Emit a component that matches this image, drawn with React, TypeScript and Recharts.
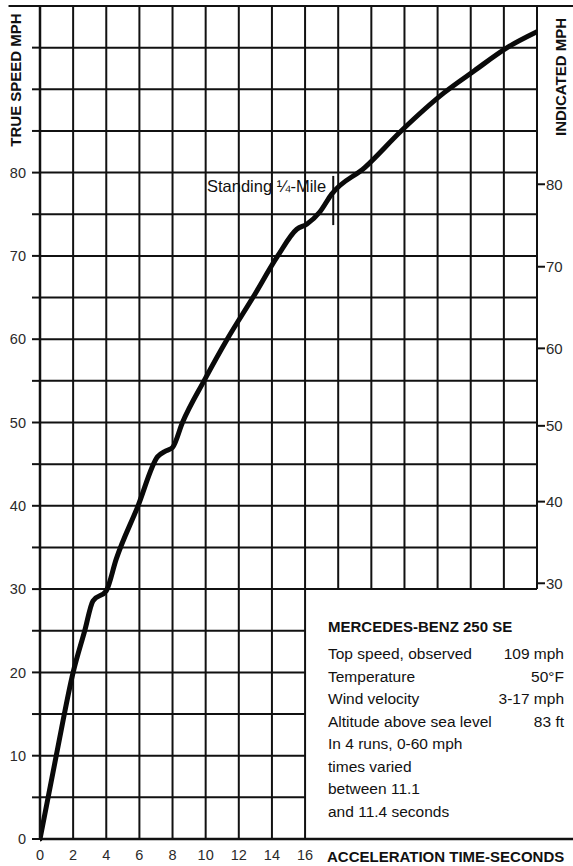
import { LineChart, Line, XAxis, YAxis, ReferenceLine } from 'recharts';

// acceleration curve
const times = [0, 1, 2, 2.7, 3.2, 4.0, 4.6, 5.9, 7.1, 7.6, 8.0, 8.6, 9.9, 11.3, 12.85, 14.35, 15.5, 16.1, 16.9, 17.6, 19.6, 21.8, 24.4, 26.2, 28.2, 30.0];
const trueSpeed = [0, 10.2, 20, 25, 28.6, 29.8, 33.6, 39.9, 45.9, 46.6, 47.0, 50.0, 55.0, 60.0, 65.0, 70.0, 73.2, 73.8, 75.3, 77.4, 80.6, 85.0, 89.6, 92.2, 95.0, 96.9];

const timeTicks = [0, 2, 4, 6, 8, 10, 12, 14, 16];
const gridX = [0, 2, 4, 6, 8, 10, 12, 14, 16, 18, 20, 22, 24, 26, 28, 30];
const gridY = [0, 5, 10, 15, 20, 25, 30, 35, 40, 45, 50, 55, 60, 65, 70, 75, 80, 85, 90, 95, 100];

// speedometer calibration: indicated reading vs true speed
const indicatedLabels = [30, 40, 50, 60, 70, 80];
const indicatedAtTrue = [30.7, 40.5, 49.6, 58.9, 68.7, 78.6];

const quarterMileTime = 17.7;
const quarterMileSpan = [73.7, 79.6];

// info box corner (lower right of grid is left blank)
const boxTime = 16;
const boxSpeed = 30;

const infoRows = [
    ['Top speed, observed', '109 mph'],
    ['Temperature', '50°F'],
    ['Wind velocity', '3-17 mph'],
    ['Altitude above sea level', '83 ft'],
];
const infoNotes = ['In 4 runs, 0-60 mph', 'times varied', 'between 11.1', 'and 11.4 seconds'];

const data = times.map((t, i) => ({ t, v: trueSpeed[i] }));

const INK = '#111';
const FONT = '"Liberation Sans", Arial, sans-serif';

const QuarterLabel = (props: any) => {
    const vb = props.viewBox || {};
    return (
        <text x={vb.x - 7} y={vb.y + 16} textAnchor="end" fontSize={16.5} fill={INK} fontFamily={FONT}>
            Standing ¼-Mile
        </text>
    );
};

const titleStyle: React.CSSProperties = {
    position: 'absolute',
    whiteSpace: 'nowrap',
    fontWeight: 700,
    fontSize: 15,
};

export default function App() {
    return (
        <div
            style={{
                position: 'absolute',
                left: 0,
                top: 0,
                width: 573,
                height: 866,
                background: '#fff',
                fontFamily: FONT,
                color: INK,
                overflow: 'hidden',
            }}
        >
            <LineChart
                width={573}
                height={866}
                data={data}
                margin={{ top: 6, right: 0, left: 0, bottom: 0 }}
            >
                <XAxis
                    dataKey="t"
                    type="number"
                    domain={[0, 30]}
                    ticks={timeTicks}
                    allowDataOverflow
                    axisLine={false}
                    tickLine={false}
                    tickSize={0}
                    tickMargin={11}
                    height={27}
                    tick={{ fontSize: 14.5, fill: '#2a2a2a', fontFamily: FONT }}
                />
                <YAxis
                    yAxisId="left"
                    type="number"
                    domain={[0, 100]}
                    ticks={gridY}
                    width={40}
                    tickSize={8}
                    tickMargin={6}
                    axisLine={{ stroke: INK, strokeWidth: 2.5 }}
                    tickLine={{ stroke: INK, strokeWidth: 2 }}
                    tickFormatter={(v: number) => (v % 10 === 0 && v <= 80 ? String(v) : '')}
                    tick={{ fontSize: 14.5, fill: '#2a2a2a', fontFamily: FONT }}
                />
                <YAxis
                    yAxisId="right"
                    orientation="right"
                    type="number"
                    domain={[0, 100]}
                    ticks={indicatedAtTrue}
                    width={36}
                    tickSize={8}
                    tickMargin={1}
                    axisLine={false}
                    tickLine={{ stroke: INK, strokeWidth: 2 }}
                    tickFormatter={(v: number) => String(indicatedLabels[indicatedAtTrue.indexOf(v)] ?? '')}
                    tick={{ fontSize: 15, fill: '#2a2a2a', fontFamily: FONT, textAnchor: 'start' }}
                />

                {gridX.map((x) => (
                    <ReferenceLine
                        key={`gx-${x}`}
                        yAxisId="left"
                        segment={[
                            { x, y: x > boxTime ? boxSpeed : 0 },
                            { x, y: 100 },
                        ]}
                        stroke={INK}
                        strokeWidth={2}
                        ifOverflow="visible"
                    />
                ))}
                {gridY.map((y) => (
                    <ReferenceLine
                        key={`gy-${y}`}
                        yAxisId="left"
                        segment={[
                            { x: y === 100 ? -1.9 : 0, y },
                            { x: y === 0 || y === 100 ? 32.2 : y < boxSpeed ? boxTime : 30, y },
                        ]}
                        stroke={INK}
                        strokeWidth={y === 0 ? 2.5 : 2}
                        ifOverflow="visible"
                    />
                ))}

                <ReferenceLine
                    yAxisId="left"
                    segment={[
                        { x: quarterMileTime, y: quarterMileSpan[0] },
                        { x: quarterMileTime, y: quarterMileSpan[1] },
                    ]}
                    stroke={INK}
                    strokeWidth={2}
                    label={QuarterLabel}
                />

                {/* invisible copy so the indicated-mph axis gets drawn */}
                <Line
                    yAxisId="right"
                    dataKey="v"
                    stroke="none"
                    dot={false}
                    activeDot={false}
                    legendType="none"
                    isAnimationActive={false}
                />
                <Line
                    yAxisId="left"
                    type="monotone"
                    dataKey="v"
                    stroke="#0a0a0a"
                    strokeWidth={5}
                    strokeLinejoin="round"
                    strokeLinecap="round"
                    dot={false}
                    isAnimationActive={false}
                />
            </LineChart>

            <div style={{ ...titleStyle, left: 15, top: 80, transform: 'translate(-50%, -50%) rotate(-90deg)' }}>
                TRUE SPEED MPH
            </div>
            <div style={{ ...titleStyle, left: 560, top: 77, transform: 'translate(-50%, -50%) rotate(-90deg)' }}>
                INDICATED MPH
            </div>
            <div style={{ ...titleStyle, left: 327, top: 848 }}>ACCELERATION TIME-SECONDS</div>

            <div style={{ position: 'absolute', left: 328, top: 618, width: 236, fontSize: 15.5 }}>
                <div style={{ fontWeight: 700, fontSize: 15, marginBottom: 8 }}>MERCEDES-BENZ 250 SE</div>
                {infoRows.map(([k, val]) => (
                    <div key={k} style={{ display: 'flex', justifyContent: 'space-between', height: 22.5, lineHeight: '22.5px' }}>
                        <span>{k}</span>
                        <span>{val}</span>
                    </div>
                ))}
                {infoNotes.map((n) => (
                    <div key={n} style={{ height: 22.5, lineHeight: '22.5px' }}>
                        {n}
                    </div>
                ))}
            </div>
        </div>
    );
}
